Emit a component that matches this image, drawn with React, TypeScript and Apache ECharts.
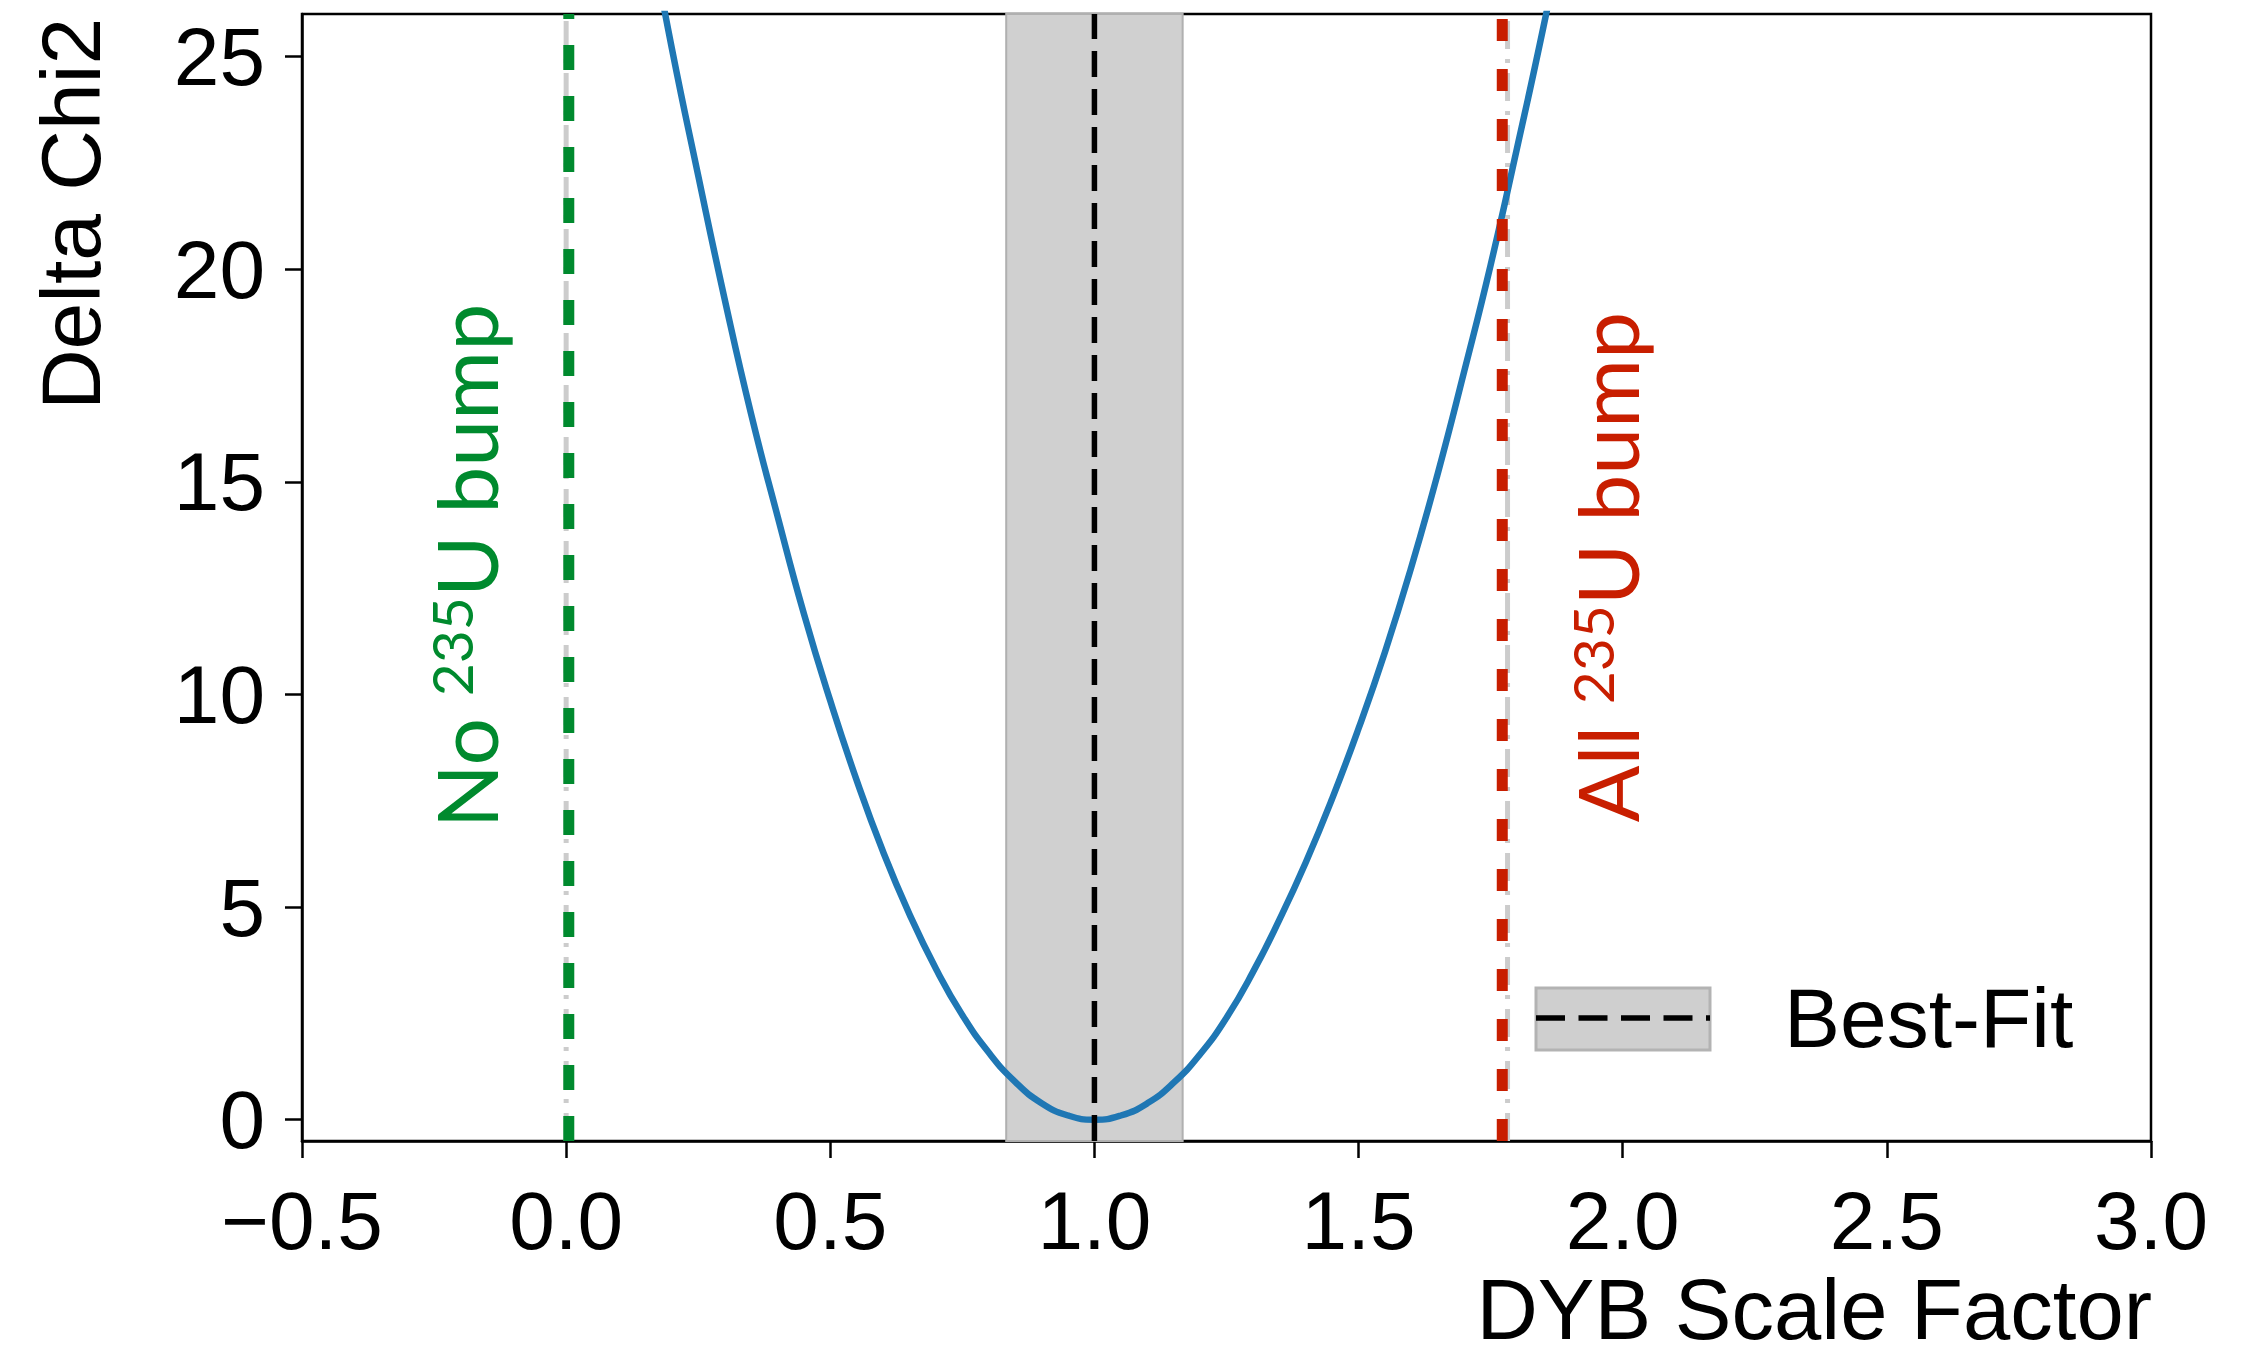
import React, { useEffect, useRef } from "react";
import * as echarts from "echarts";

// Delta chi2 scan vs DYB scale factor
const chi2X = [0.15, 0.2, 0.25, 0.3, 0.35, 0.4, 0.45, 0.5, 0.55, 0.6, 0.65, 0.7, 0.75, 0.8, 0.85, 0.9, 0.95, 1.0,
  1.05, 1.1, 1.15, 1.2, 1.25, 1.3, 1.35, 1.4, 1.45, 1.5, 1.55, 1.6, 1.65, 1.7, 1.75, 1.8, 1.85, 1.9];
const chi2Y = [28.5, 25.2, 22.2, 19.3, 16.6, 14.2, 11.9, 9.85, 7.98, 6.3, 4.83, 3.55, 2.46, 1.58, 0.89, 0.39, 0.1, 0.0,
  0.1, 0.385, 0.87, 1.54, 2.4, 3.47, 4.7, 6.05, 7.55, 9.2, 11.0, 13.0, 15.2, 17.6, 20.1, 22.85, 25.7, 28.75];

const bestFit = 1.0;
const bandLow = 0.833;
const bandHigh = 1.167;
const noBumpX = 0.005;
const noBumpRefX = 0.0;
const allBumpX = 1.772;
const allBumpRefX = 1.782;

const xRange = [-0.5, 3.0];
const yRange = [-0.5, 26];
const xInterval = 0.5;
const yTickValues = [0, 5, 10, 15, 20, 25];

const AX = "Liberation Sans, Arial, sans-serif";
const HUM = "Lato, 'Open Sans', sans-serif";

export default function App() {
  const ref = useRef<HTMLDivElement>(null);
  useEffect(() => {
    const chart = echarts.init(ref.current as HTMLDivElement, null, { renderer: "svg" });
    const vline = (x: number) => [[x, yRange[0]], [x, yRange[1]]];
    const fmt = (v: number) => (v < 0 ? "\u2212" : "") + Math.abs(v).toFixed(1);
    const supLabel = (pre: string, color: string) => ({
      text: `{m|${pre}}{s|235}{m|U bump}`,
      align: "center",
      verticalAlign: "middle",
      fill: color,
      rich: {
        m: { fontSize: 84, fontFamily: HUM, fill: color, lineHeight: 100 },
        s: { fontSize: 57, fontFamily: HUM, fill: color, verticalAlign: "middle", padding: [0, 0, 28, 0] },
      },
    });
    chart.setOption({
      animation: false,
      backgroundColor: "#ffffff",
      grid: {
        left: 302, right: 94, top: 14, bottom: 215,
        show: true, borderColor: "#000", borderWidth: 2.5, backgroundColor: "transparent",
        containLabel: false, outerBoundsMode: "none",
      },
      xAxis: {
        type: "value", min: xRange[0], max: xRange[1], interval: xInterval,
        axisLine: { show: true, onZero: false, lineStyle: { color: "#000", width: 2.5 } },
        axisTick: { show: true, inside: false, length: 17, lineStyle: { color: "#000", width: 2.5 } },
        axisLabel: { margin: 38, fontSize: 82, fontFamily: AX, color: "#000", formatter: fmt, showMinLabel: true, showMaxLabel: true },
        splitLine: { show: false },
      },
      yAxis: {
        type: "value", min: yRange[0], max: yRange[1],
        axisLine: { show: true, onZero: false, lineStyle: { color: "#000", width: 2.5 } },
        axisTick: { show: true, inside: false, length: 17, customValues: yTickValues, lineStyle: { color: "#000", width: 2.5 } },
        axisLabel: { margin: 37, fontSize: 82, fontFamily: AX, color: "#000", customValues: yTickValues },
        splitLine: { show: false },
      },
      series: [
        {
          name: "band", type: "line", data: vline(bestFit), z: 1, silent: true,
          lineStyle: { width: 0, opacity: 0 }, showSymbol: false,
          markArea: {
            silent: true, z: 1,
            itemStyle: { color: "#d0d0d0", borderColor: "#b0b0b0", borderWidth: 2 },
            data: [[{ xAxis: bandLow }, { xAxis: bandHigh }]],
          },
        },
        {
          name: "noBumpRef", type: "line", data: vline(noBumpRefX), z: 2, silent: true, showSymbol: false,
          lineStyle: { color: "#cccccc", width: 5, type: [28, 10, 4, 10] },
        },
        {
          name: "allBumpRef", type: "line", data: vline(allBumpRefX), z: 2, silent: true, showSymbol: false,
          lineStyle: { color: "#cccccc", width: 5, type: [28, 10, 4, 10] },
        },
        {
          name: "chi2", type: "line", data: chi2X.map((x, i) => [x, chi2Y[i]]), smooth: true, z: 3,
          showSymbol: false, silent: true, clip: true,
          lineStyle: { color: "#1f77b4", width: 6.5 },
        },
        {
          name: "bestFit", type: "line", data: vline(bestFit), z: 4, silent: true, showSymbol: false,
          lineStyle: { color: "#000000", width: 5.5, type: [26, 12] },
        },
        {
          name: "noBump", type: "line", data: vline(noBumpX), z: 4, silent: true, showSymbol: false,
          lineStyle: { color: "#008a2e", width: 11, type: [25, 26] },
        },
        {
          name: "allBump", type: "line", data: vline(allBumpX), z: 4, silent: true, showSymbol: false,
          lineStyle: { color: "#c81e00", width: 11, type: [22, 28] },
        },
      ],
      graphic: [
        {
          type: "text", x: 71, y: 214, rotation: Math.PI / 2,
          style: { text: "Delta Chi2", align: "center", verticalAlign: "middle", fontSize: 84, fontFamily: AX, fill: "#000" },
        },
        {
          type: "text", x: 2152, y: 1309,
          style: { text: "DYB Scale Factor", align: "right", verticalAlign: "middle", fontSize: 85, fontFamily: AX, fill: "#000" },
        },
        { type: "text", x: 465, y: 566, rotation: Math.PI / 2, z: 10, style: supLabel("No ", "#008a2e") },
        { type: "text", x: 1606, y: 567, rotation: Math.PI / 2, z: 10, style: supLabel("All ", "#c81e00") },
        {
          type: "rect", z: 10, shape: { x: 1536, y: 988, width: 174, height: 62 },
          style: { fill: "#cfcfcf", stroke: "#b3b3b3", lineWidth: 3 },
        },
        {
          type: "line", z: 11, shape: { x1: 1536, y1: 1018, x2: 1710, y2: 1018 },
          style: { stroke: "#000", lineWidth: 5.5, lineDash: [29, 13.5] },
        },
        {
          type: "text", x: 1784, y: 1018, z: 10,
          style: { text: "Best-Fit", align: "left", verticalAlign: "middle", fontSize: 84, fontFamily: AX, fill: "#000" },
        },
      ],
    });
    return () => chart.dispose();
  }, []);
  return <div ref={ref} style={{ position: "absolute", left: 0, top: 0, width: 2245, height: 1356 }} />;
}
